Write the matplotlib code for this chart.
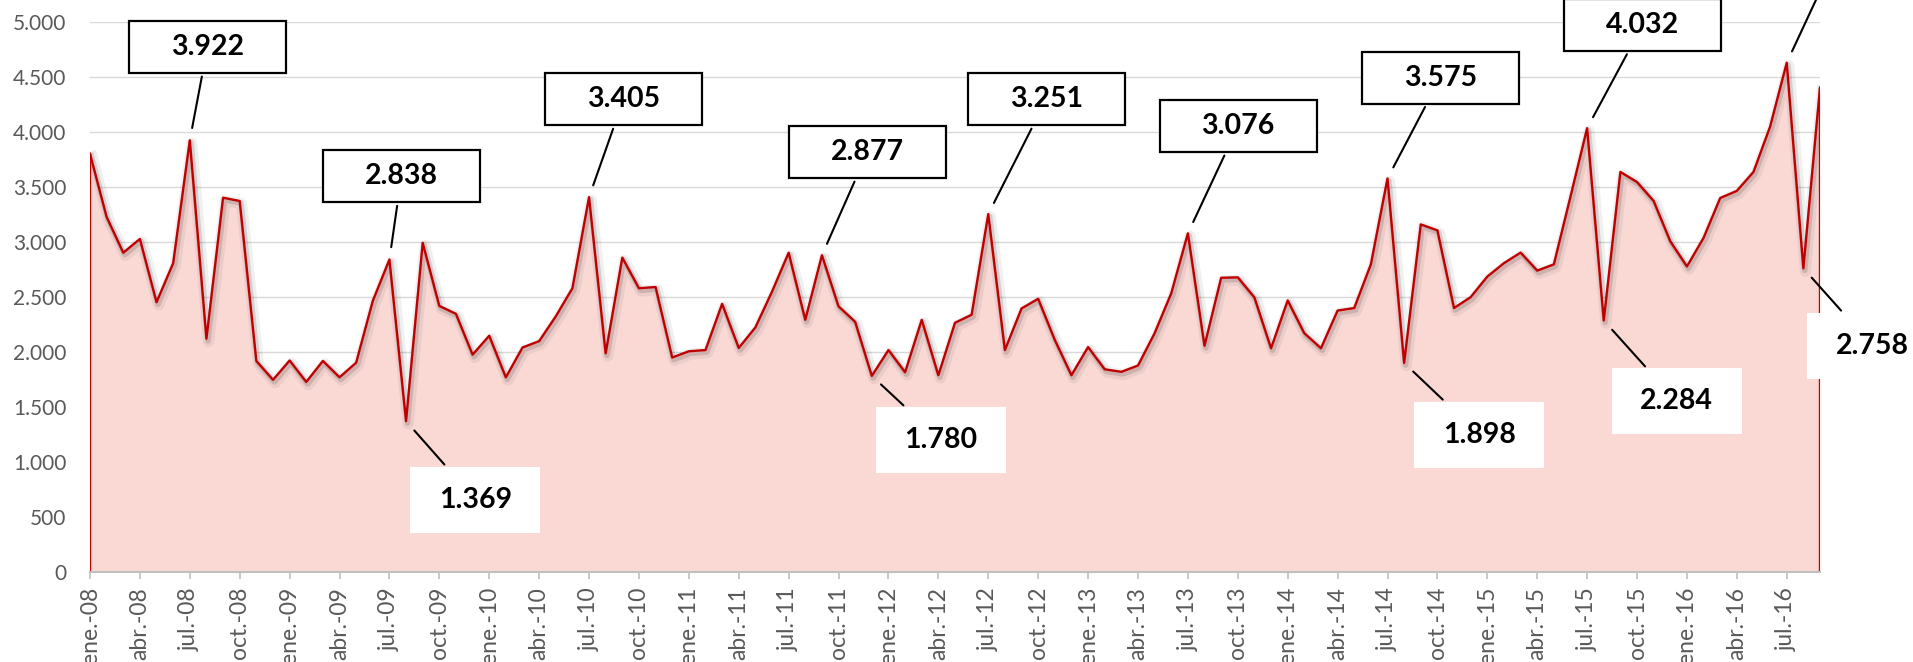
import matplotlib
matplotlib.use('Agg')
import matplotlib.pyplot as plt
import matplotlib.patheffects as pe
from matplotlib.patches import Rectangle
from matplotlib.ticker import FuncFormatter
import numpy as np

plt.rcParams['font.family'] = ['Lato', 'DejaVu Sans']

# Datos mensuales, ene-08 .. sep-16
meses = ['ene.', 'feb.', 'mar.', 'abr.', 'may.', 'jun.',
         'jul.', 'ago.', 'sep.', 'oct.', 'nov.', 'dic.']
anios = ['08', '09', '10', '11', '12', '13', '14', '15', '16']

valores = [
    3800, 3225, 2900, 3025, 2450, 2805, 3922, 2118, 3400, 3370, 1916, 1744,  # 2008
    1920, 1725, 1916, 1767, 1900, 2462, 2838, 1369, 2990, 2416, 2344, 1973,  # 2009
    2145, 1767, 2038, 2096, 2321, 2577, 3405, 1985, 2855, 2577, 2588, 1947,  # 2010
    2004, 2015, 2435, 2034, 2221, 2546, 2900, 2290, 2877, 2412, 2271, 1780,  # 2011
    2015, 1813, 2290, 1786, 2263, 2336, 3251, 2015, 2393, 2481, 2107, 1786,  # 2012
    2042, 1840, 1817, 1874, 2168, 2531, 3076, 2054, 2672, 2676, 2493, 2031,  # 2013
    2466, 2168, 2031, 2374, 2397, 2794, 3575, 1898, 3157, 3103, 2397, 2496,  # 2014
    2683, 2805, 2901, 2737, 2794, 3410, 4032, 2284, 3634, 3542, 3370, 3004,  # 2015
    2775, 3035, 3397, 3462, 3634, 4046, 4627, 2758, 4401,                    # 2016
]

# meses con etiqueta de dato
etiquetas_idx = [6, 18, 19, 30, 44, 47, 54, 66, 78, 79, 90, 91, 102, 103]

# posicion (centro de la caja, en unidades de datos) y tipo de caja de cada etiqueta
etiquetas_pos = [(7.06, 4770, 'borde'), (18.72, 3595, 'borde'), (23.17, 655, 'blanca'),
                 (32.07, 4294, 'borde'), (46.74, 3813, 'borde'), (51.15, 1195, 'blanca'),
                 (57.49, 4294, 'borde'), (69.02, 4050, 'borde'), (81.18, 4491, 'borde'),
                 (83.53, 1247, 'blanca'), (93.34, 4970, 'borde'), (95.38, 1548, 'blanca'),
                 (104.75, 5520, 'borde'), (107.15, 2055, 'blanca')]


def fmt_miles(v, pos=None):
    return '{:,}'.format(int(v)).replace(',', '.')


W, H = 1913, 662
fig = plt.figure(figsize=(W / 100, H / 100), dpi=100)
ax_px = [90, 90.3, 1730, 550]  # left, bottom, width, height en pixeles
ax = fig.add_axes([ax_px[0] / W, ax_px[1] / H, ax_px[2] / W, ax_px[3] / H])

x = np.arange(len(valores))
x_max = len(valores) - 1
y_max = 5000

# area + linea
ax.fill_between(x, valores, 0, color='#fad9d5', lw=0, zorder=1)
ax.plot(x, valores, color='#c00000', lw=1.7, zorder=3,
        path_effects=[pe.SimpleLineShadow(offset=(1.5, -2), shadow_color='black', alpha=0.06, linewidth=8),
                      pe.SimpleLineShadow(offset=(1, -1.5), shadow_color='black', alpha=0.13, linewidth=4),
                      pe.Normal()])
ax.vlines([x[0], x[-1]], 0, [valores[0], valores[-1]], color='#c00000', lw=1.7, zorder=3)

# ejes
ax.set_xlim(0, x_max)
ax.set_ylim(0, y_max)
ax.set_yticks(range(0, y_max + 1, 500))
ax.yaxis.set_major_formatter(FuncFormatter(fmt_miles))
ticks_x = list(range(0, len(valores), 3))
ax.set_xticks(ticks_x)
ax.set_xticklabels([meses[i % 12] + '-' + anios[i // 12] for i in ticks_x])

ax.yaxis.grid(True, color='#d9d9d9', lw=1.0)
ax.set_axisbelow(True)
for s in ['left', 'right', 'top']:
    ax.spines[s].set_visible(False)
ax.spines['bottom'].set_color('#bfbfbf')
ax.spines['bottom'].set_linewidth(1.5)
ax.spines['bottom'].set_zorder(4)

ax.tick_params(axis='x', length=5, width=1.2, color='#bfbfbf', labelsize=16.5,
               labelcolor='#595959', pad=6, labelrotation=90)
ax.tick_params(axis='y', length=0, pad=17, labelsize=15, labelcolor='#595959')

# etiquetas de datos con linea guia
mes_por_px = x_max / ax_px[2]
val_por_px = y_max / ax_px[3]
tam_caja = {'borde': (157, 52), 'blanca': (130, 66)}

for idx, (cx, cy, tipo) in zip(etiquetas_idx, etiquetas_pos):
    wpx, hpx = tam_caja[tipo]
    w = wpx * mes_por_px
    h = hpx * val_por_px
    rect = Rectangle((cx - w / 2, cy - h / 2), w, h, facecolor='white',
                     edgecolor='black' if tipo == 'borde' else 'none',
                     lw=1.6, zorder=5, clip_on=False)
    ax.add_patch(rect)
    ax.annotate(fmt_miles(valores[idx]), xy=(idx, valores[idx]), xytext=(cx, cy),
                ha='center', va='center', fontsize=20.5, fontweight='bold', color='black',
                zorder=6, annotation_clip=False,
                arrowprops=dict(arrowstyle='-', color='black', lw=1.5,
                                patchA=rect, shrinkA=2, shrinkB=9))

fig.savefig('out.png', dpi=100)
